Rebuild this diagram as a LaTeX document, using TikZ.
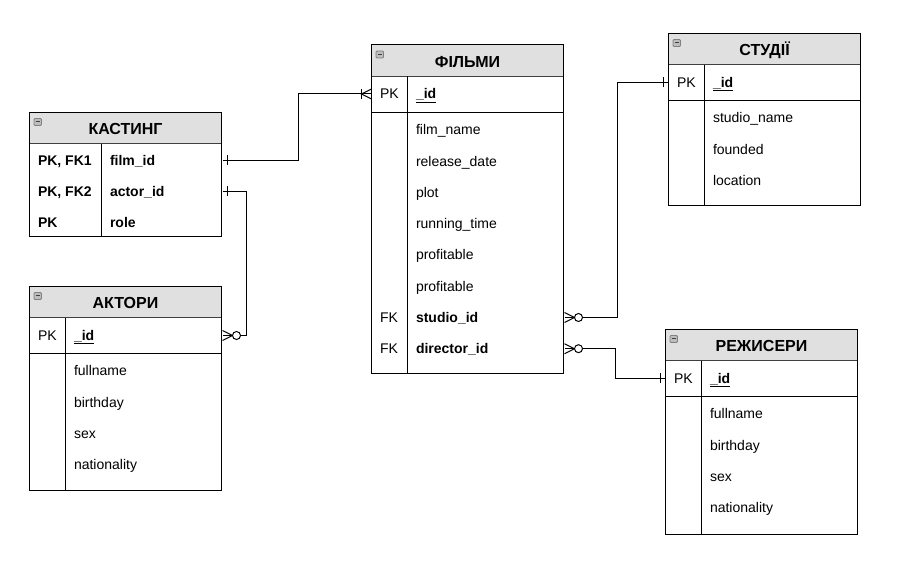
\documentclass[tikz,border=0pt]{standalone}
\usepackage{fontspec}
\setmainfont{Liberation Sans}
\definecolor{hdrgray}{HTML}{E0E0E0}
\definecolor{icongray}{HTML}{BDBDBD}
\newcommand\bodyfont{\fontsize{14}{16}\selectfont}
\newcommand\ertable[6]{% #1 name, #2 left, #3 top, #4 bottom, #5 key width, #6 title
  \fill[hdrgray] (#2,#3) rectangle (#2+192,#3+31.5);
  \draw[hdrline] (#2,#3+31.5) -- (#2+192,#3+31.5);
  \draw[frame] (#2+#5,#3+31.5) -- (#2+#5,#4);
  \draw[frame] (#2,#3) rectangle (#2+192,#4);
  \draw[minusicon] (#2+4.5,#3+6) rectangle (#2+12,#3+13);
  \draw[minusdash] (#2+6,#3+9.5) -- (#2+10.5,#3+9.5);
  \node[title] (#1) at (#2+96,#3+16.5) {#6};
}
\begin{document}
\begin{tikzpicture}[x=1pt,y=-1pt,line width=1pt,
  frame/.style={draw=black,line width=1pt},
  hdrline/.style={draw=black!75,line width=1pt},
  minusicon/.style={draw=black!50,fill=icongray,line width=0.8pt,rounded corners=1pt},
  minusdash/.style={draw=black!75,line width=1pt},
  title/.style={font=\fontsize{16}{18}\selectfont\bfseries,text height=11.5pt,text depth=0pt,inner sep=0pt},
  key/.style={anchor=west,inner xsep=8pt,inner ysep=0pt,text height=10pt,text depth=0pt,font=\bodyfont},
  field/.style={anchor=west,inner xsep=8pt,inner ysep=0pt,text height=10pt,text depth=0pt,text width=#1,align=left,font=\bodyfont},
  field/.default=140pt,
  conn/.style={draw=black,line width=1pt},
  onebar/.pic={\draw[line width=1pt] (5,-5) -- (5,5);},
  crowone/.pic={\draw[line width=1pt] (0,-5) -- (10,0) -- (0,5); \draw[line width=1pt] (10,-5) -- (10,5);},
  crowzero/.pic={\draw[line width=1pt] (0,-5) -- (10,0) -- (0,5); \draw[line width=1pt,fill=white] (14,0) circle[radius=4];}
]
\useasboundingbox (0,0) rectangle (906,569);

% ---------- КАСТИНГ ----------
\ertable{kt}{29.5}{112.5}{237}{72}{КАСТИНГ}
\node[key,font=\bodyfont\bfseries] (kk1) at (29.5,160.5) {PK, FK1};
\node[key,font=\bodyfont\bfseries] (kk2) at (29.5,191.5) {PK, FK2};
\node[key,font=\bodyfont\bfseries] (kk3) at (29.5,222.5) {PK};
\node[field=104pt,font=\bodyfont\bfseries] (kf) at (101.5,160.5) {film\_id};
\node[field=104pt,font=\bodyfont\bfseries] (ka) at (101.5,191.5) {actor\_id};
\node[field=104pt,font=\bodyfont\bfseries] (kr) at (101.5,222.5) {role};

% ---------- АКТОРИ ----------
\ertable{at}{29.5}{286.5}{490.5}{36}{АКТОРИ}
\draw[frame] (29.5,353.5) -- (221.5,353.5);
\node[key] (apk) at (29.5,335.5) {PK};
\node[field,font=\bodyfont\bfseries] (aid) at (65.5,335.5) {\underline{\_id}};
\node[field] (a1) at (65.5,371) {fullname};
\node[field] (a2) at (65.5,402.3) {birthday};
\node[field] (a3) at (65.5,433.6) {sex};
\node[field] (a4) at (65.5,465) {nationality};

% ---------- ФІЛЬМИ ----------
\ertable{ft}{371.5}{45}{374}{36}{ФІЛЬМИ}
\draw[frame] (371.5,112.5) -- (563.5,112.5);
\node[key] (fpk) at (371.5,94) {PK};
\node[field,font=\bodyfont\bfseries] (fid) at (407.5,94) {\underline{\_id}};
\node[field] (f1) at (407.5,130) {film\_name};
\node[field] (f2) at (407.5,161.2) {release\_date};
\node[field] (f3) at (407.5,192.5) {plot};
\node[field] (f4) at (407.5,223.7) {running\_time};
\node[field] (f5) at (407.5,255) {profitable};
\node[field] (f6) at (407.5,286.2) {profitable};
\node[key] (ffk1) at (371.5,317.5) {FK};
\node[field,font=\bodyfont\bfseries] (fstudio) at (407.5,317.5) {studio\_id};
\node[key] (ffk2) at (371.5,348.7) {FK};
\node[field,font=\bodyfont\bfseries] (fdir) at (407.5,348.7) {director\_id};

% ---------- СТУДІЇ ----------
\ertable{st}{668.5}{33.5}{205.5}{36}{СТУДІЇ}
\draw[frame] (668.5,100.5) -- (860.5,100.5);
\node[key] (spk) at (668.5,82.3) {PK};
\node[field,font=\bodyfont\bfseries] (sid) at (704.5,82.3) {\underline{\_id}};
\node[field] (s1) at (704.5,118) {studio\_name};
\node[field] (s2) at (704.5,149.3) {founded};
\node[field] (s3) at (704.5,180.5) {location};

% ---------- РЕЖИСЕРИ ----------
\ertable{rt}{665.5}{329.5}{534}{36}{РЕЖИСЕРИ}
\draw[frame] (665.5,396.5) -- (857.5,396.5);
\node[key] (rpk) at (665.5,378.5) {PK};
\node[field,font=\bodyfont\bfseries] (rid) at (701.5,378.5) {\underline{\_id}};
\node[field] (r1) at (701.5,414) {fullname};
\node[field] (r2) at (701.5,445.3) {birthday};
\node[field] (r3) at (701.5,476.6) {sex};
\node[field] (r4) at (701.5,508) {nationality};

% ---------- connectors ----------
\draw[conn] (kf.east) -- ++(75.5,0) |- (fpk.west);
\pic at (kf.east) {onebar};
\pic[rotate=180] at (fpk.west) {crowone};

\draw[conn] (ka.east) -- ++(23.5,0) |- (aid.east);
\pic at (ka.east) {onebar};
\pic at (aid.east) {crowzero};

\draw[conn] (fstudio.east) -- ++(53,0) |- (spk.west);
\pic at (fstudio.east) {crowzero};
\pic[rotate=180] at (spk.west) {onebar};

\draw[conn] (fdir.east) -- ++(50.5,0) |- (rpk.west);
\pic at (fdir.east) {crowzero};
\pic[rotate=180] at (rpk.west) {onebar};
\end{tikzpicture}
\end{document}
